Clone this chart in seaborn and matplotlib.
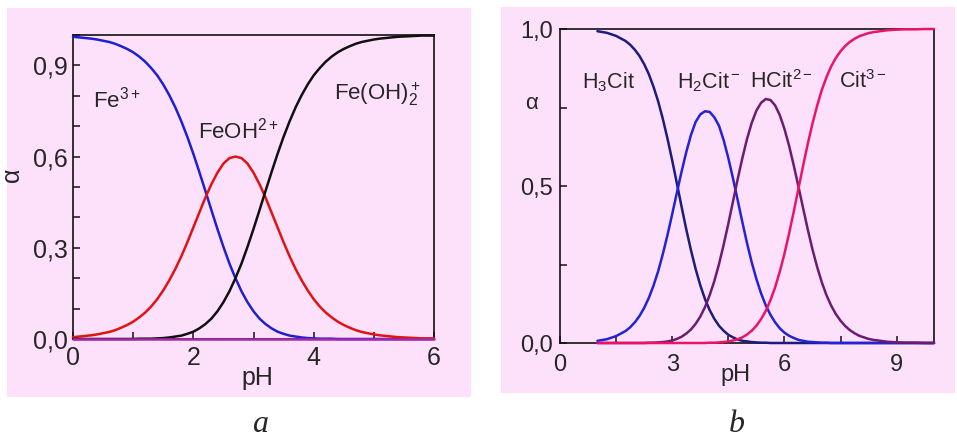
import matplotlib
matplotlib.use("Agg")
import matplotlib.pyplot as plt
import seaborn as sns
from matplotlib.patches import Rectangle
from matplotlib.ticker import MultipleLocator, FuncFormatter

sns.set_style("ticks")
plt.rcParams['font.family'] = ['Liberation Sans', 'DejaVu Sans']
plt.rcParams['mathtext.fontset'] = 'custom'
plt.rcParams['mathtext.rm'] = 'Liberation Sans'
plt.rcParams['mathtext.it'] = 'Liberation Sans:italic'
plt.rcParams['mathtext.bf'] = 'Liberation Sans:bold'

PINK = '#fde1fb'

# panel a: Fe(III) species vs pH
ph_a = [0.0, 0.1, 0.2, 0.3, 0.4, 0.5, 0.6, 0.7, 0.8, 0.9,
        1.0, 1.1, 1.2, 1.3, 1.4, 1.5, 1.6, 1.7, 1.8, 1.9,
        2.0, 2.1, 2.2, 2.3, 2.4, 2.5, 2.6, 2.7, 2.8, 2.9,
        3.0, 3.1, 3.2, 3.3, 3.4, 3.5, 3.6, 3.7, 3.8, 3.9,
        4.0, 4.1, 4.2, 4.3, 4.4, 4.5, 4.6, 4.7, 4.8, 4.9,
        5.0, 5.1, 5.2, 5.3, 5.4, 5.5, 5.6, 5.7, 5.8, 5.9, 6.0]
fe3 = [0.994, 0.992, 0.990, 0.988, 0.985, 0.981, 0.977, 0.971, 0.963, 0.954,
       0.943, 0.929, 0.912, 0.891, 0.867, 0.837, 0.802, 0.762, 0.716, 0.665,
       0.609, 0.549, 0.487, 0.424, 0.362, 0.303, 0.248, 0.200, 0.157, 0.121,
       0.091, 0.067, 0.049, 0.035, 0.024, 0.017, 0.011, 0.008, 0.005, 0.003,
       0.002, 0.001, 0.001, 0.001] + [0.0] * 17
feoh = [0.006, 0.008, 0.010, 0.012, 0.015, 0.019, 0.023, 0.029, 0.037, 0.046,
        0.057, 0.071, 0.087, 0.107, 0.131, 0.160, 0.193, 0.230, 0.272, 0.318,
        0.367, 0.416, 0.465, 0.509, 0.547, 0.577, 0.595, 0.600, 0.595, 0.577,
        0.547, 0.509, 0.465, 0.416, 0.367, 0.318, 0.272, 0.230, 0.193, 0.160,
        0.131, 0.107, 0.087, 0.071, 0.057, 0.046, 0.037, 0.029, 0.023, 0.019,
        0.015, 0.012, 0.010, 0.008, 0.006, 0.005, 0.004, 0.003, 0.002, 0.002, 0.002]
feoh2 = [0.0] * 11 + [0.001, 0.001, 0.001, 0.002, 0.003, 0.005, 0.008, 0.011, 0.017,
                      0.024, 0.035, 0.049, 0.067, 0.091, 0.121, 0.157, 0.200, 0.248, 0.303,
                      0.362, 0.424, 0.487, 0.549, 0.609, 0.665, 0.716, 0.762, 0.802, 0.837,
                      0.867, 0.891, 0.912, 0.929, 0.943, 0.954, 0.963, 0.971, 0.977, 0.981,
                      0.985, 0.988, 0.990, 0.992, 0.994, 0.995, 0.996, 0.997, 0.998, 0.998,
                      0.998]
fe_other = [0.0] * len(ph_a)

# panel b: citric acid species vs pH
ph_b = [1.0, 1.25, 1.5, 1.75,
        1.875, 2.0, 2.125, 2.25, 2.375, 2.5, 2.625, 2.75, 2.875, 3.0,
        3.125, 3.25, 3.375, 3.5, 3.625, 3.75, 3.875, 4.0, 4.125, 4.25,
        4.375, 4.5, 4.625, 4.75, 4.875, 5.0, 5.125, 5.25, 5.375, 5.5,
        5.625, 5.75, 5.875, 6.0, 6.125, 6.25, 6.375, 6.5, 6.625, 6.75,
        6.875, 7.0, 7.125, 7.25, 7.375, 7.5, 7.625, 7.75, 7.875, 8.0,
        8.125, 8.25, 8.375,
        8.5, 8.75, 9.0, 9.25, 9.5, 9.75, 10.0]
h3cit = [0.993, 0.988, 0.978, 0.962,
         0.950, 0.934, 0.914, 0.888, 0.856, 0.816, 0.769, 0.713, 0.650, 0.581,
         0.508, 0.434, 0.362, 0.296, 0.236, 0.184, 0.140, 0.105, 0.077, 0.055,
         0.039, 0.026, 0.018, 0.011, 0.007, 0.005, 0.003, 0.002, 0.001, 0.001] + [0.0] * 30
h2cit = [0.007, 0.012, 0.022, 0.038,
         0.050, 0.066, 0.086, 0.112, 0.144, 0.183, 0.229, 0.284, 0.345, 0.411,
         0.479, 0.546, 0.608, 0.662, 0.704, 0.728, 0.738, 0.736, 0.719, 0.692,
         0.646, 0.589, 0.524, 0.455, 0.385, 0.318, 0.257, 0.204, 0.158, 0.120,
         0.090, 0.066, 0.047, 0.033, 0.023, 0.016, 0.010, 0.007, 0.004, 0.003,
         0.002, 0.001, 0.001] + [0.0] * 17
hcit = [0.0] * 8 + [0.001, 0.001, 0.002, 0.003, 0.005, 0.008, 0.013, 0.020, 0.030, 0.043,
                    0.061, 0.084, 0.114, 0.152, 0.197, 0.251, 0.313, 0.380, 0.451, 0.522,
                    0.589, 0.650, 0.701, 0.740, 0.765, 0.777, 0.774, 0.757, 0.726, 0.682,
                    0.628, 0.565, 0.498, 0.429, 0.361, 0.298, 0.242, 0.193, 0.152, 0.119,
                    0.092, 0.071, 0.054, 0.041, 0.031, 0.023, 0.018, 0.013, 0.010,
                    0.008, 0.004, 0.002, 0.001, 0.001, 0.0, 0.0]
cit = [0.0] * 21 + [0.001, 0.001, 0.002, 0.003, 0.005, 0.008, 0.012, 0.018, 0.027, 0.039,
                    0.055, 0.076, 0.102, 0.136, 0.177, 0.227, 0.284, 0.349, 0.419, 0.492,
                    0.565, 0.635, 0.699, 0.756, 0.806, 0.847, 0.881, 0.908, 0.929, 0.946,
                    0.959, 0.969, 0.977, 0.982, 0.987, 0.990,
                    0.992, 0.996, 0.998, 0.999, 0.999, 1.0, 1.0]

fig = plt.figure(figsize=(9.57, 4.37), dpi=100)
fig.patch.set_facecolor('white')
for x0, y0, w, h in [(0.0073, 0.0915, 0.4849, 0.8902), (0.5235, 0.1007, 0.4744, 0.8833)]:
    fig.add_artist(Rectangle((x0, y0), w, h, transform=fig.transFigure,
                             facecolor=PINK, edgecolor='none', zorder=-5))

ax_a = fig.add_axes([0.0763, 0.2243, 0.3772, 0.6957])
ax_b = fig.add_axes([0.5852, 0.2151, 0.3908, 0.7185])

comma = FuncFormatter(lambda v, p: f"{v:.1f}".replace('.', ','))
intfmt = FuncFormatter(lambda v, p: f"{v:.0f}")

for ph, vals, col in [(ph_a, fe3, '#1e1ed2'), (ph_a, feoh, '#e01212'),
                      (ph_a, feoh2, '#101010'), (ph_a, fe_other, '#a62aa8')]:
    sns.lineplot(x=ph, y=vals, ax=ax_a, color=col, lw=1.8, estimator=None,
                 sort=False, clip_on=False, zorder=3)

for ph, vals, col in [(ph_b, h3cit, '#1c1c7c'), (ph_b, h2cit, '#2222d6'),
                      (ph_b, hcit, '#6c1c70'), (ph_b, cit, '#ea1466')]:
    sns.lineplot(x=ph, y=vals, ax=ax_b, color=col, lw=1.8, estimator=None,
                 sort=False, clip_on=False, zorder=3)

for ax in (ax_a, ax_b):
    ax.set_facecolor(PINK)
    for s in ax.spines.values():
        s.set_visible(True)
        s.set_linewidth(1.2)
        s.set_color('#111111')
    ax.set_ylim(0, 1)
    ax.yaxis.set_major_formatter(comma)
    ax.xaxis.set_major_formatter(intfmt)
    ax.tick_params(which='both', direction='in', length=5, width=1.1, color='#111111',
                   top=False, right=False)
    ax.set_xlabel('')
    ax.set_ylabel('')

ax_a.set_xlim(0, 6)
ax_a.xaxis.set_major_locator(MultipleLocator(2))
ax_a.xaxis.set_minor_locator(MultipleLocator(1))
ax_a.yaxis.set_major_locator(MultipleLocator(0.3))
ax_a.yaxis.set_minor_locator(MultipleLocator(0.1))
ax_a.tick_params(axis='x', labelsize=18, pad=5)
ax_a.tick_params(axis='y', labelsize=18, pad=4)
ax_a.text(0.51, -0.128, 'pH', transform=ax_a.transAxes, fontsize=18,
          ha='center', va='center')
ax_a.text(-0.17, 0.54, 'α', transform=ax_a.transAxes, fontsize=18,
          ha='center', va='center', rotation=90)
ax_a.text(0.33, 0.763, r'Fe$^{3+}$', fontsize=16, ha='left', va='baseline')
ax_a.text(2.08, 0.661, r'FeOH$^{2+}$', fontsize=16, ha='left', va='baseline')
ax_a.text(4.33, 0.786, r'Fe(OH)$_2^+$', fontsize=16, ha='left', va='baseline')

ax_b.set_xlim(0, 10)
ax_b.xaxis.set_major_locator(MultipleLocator(3))
ax_b.xaxis.set_minor_locator(MultipleLocator(1.5))
ax_b.yaxis.set_major_locator(MultipleLocator(0.5))
ax_b.yaxis.set_minor_locator(MultipleLocator(0.25))
ax_b.tick_params(axis='x', labelsize=17, pad=8)
ax_b.tick_params(axis='y', labelsize=17, pad=5)
ax_b.text(0.468, -0.102, 'pH', transform=ax_b.transAxes, fontsize=17,
          ha='center', va='center')
ax_b.text(-0.075, 0.764, 'α', transform=ax_b.transAxes, fontsize=16,
          ha='center', va='center')
for x, lab in [(0.58, r'H$_3$Cit'), (3.12, r'H$_2$Cit$^-$'),
               (5.08, r'HCit$^{2-}$'), (7.47, r'Cit$^{3-}$')]:
    ax_b.text(x, 0.811, lab, fontsize=15.5, ha='left', va='baseline')

fig.text(0.2717, 0.012, 'a', fontsize=23, family='Liberation Serif', style='italic',
         ha='center', va='baseline')
fig.text(0.770, 0.012, 'b', fontsize=23, family='Liberation Serif', style='italic',
         ha='center', va='baseline')

fig.savefig('out.png', dpi=100, facecolor='white')
